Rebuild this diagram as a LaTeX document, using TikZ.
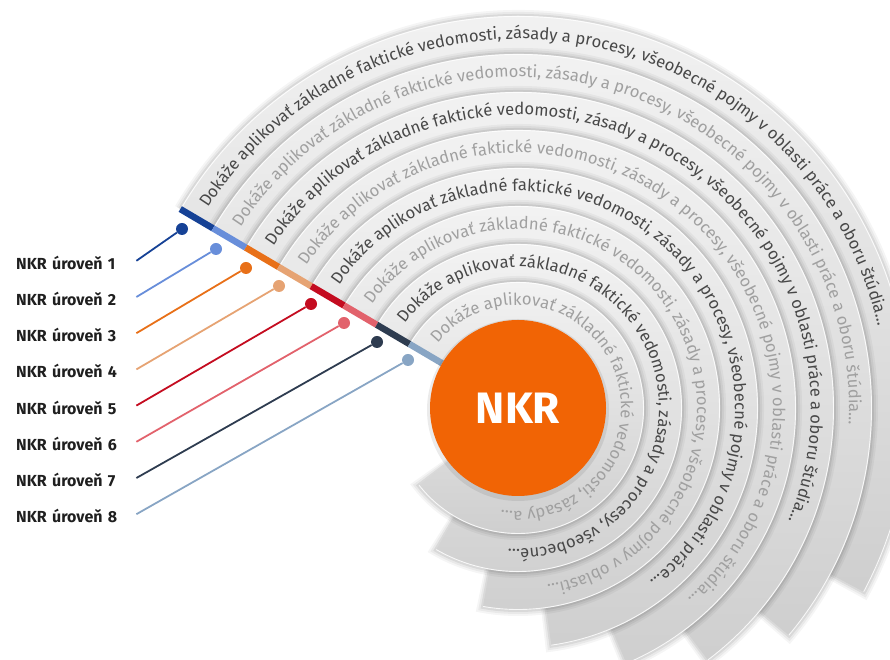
\documentclass[tikz,border=0pt]{standalone}
\usepackage{fontspec}
\setmainfont{Fira Sans}
\usetikzlibrary{decorations.text}
\definecolor{c1}{RGB}{22,66,150}
\definecolor{c2}{RGB}{104,142,218}
\definecolor{c3}{RGB}{232,112,24}
\definecolor{c4}{RGB}{230,163,115}
\definecolor{c5}{RGB}{196,12,32}
\definecolor{c6}{RGB}{226,98,108}
\definecolor{c7}{RGB}{46,60,80}
\definecolor{c8}{RGB}{136,165,196}
\definecolor{nkrorange}{RGB}{241,100,5}
\definecolor{darktxt}{RGB}{72,72,72}
\definecolor{lighttxt}{RGB}{160,160,160}
\newcommand\fullring{Dokáže aplikovať základné faktické vedomosti, zásady a procesy, všeobecné pojmy v oblasti práce a oboru štúdia…}
\newlength\fullringwd
\newcommand\ringfont{\fontsize{\ringfs pt}{\ringfs pt}\selectfont}
\newcommand\ringtext[4]{%
  \path[decorate, decoration={text along path, text={|\ringfont\color{#3}|#4}, text align={left indent=15pt}}]
    (149.5:#1) arc[start angle=149.5, end angle=#2, radius=#1];}
\tikzset{
  lbl/.style={anchor=west, inner sep=0pt, text width=120pt, align=left, text height=17pt, text depth=0pt, font=\bfseries\fontsize{16pt}{18pt}\selectfont, text=black!88},
  pin/.style={circle, inner sep=0pt, minimum size=12pt},
  conn/.style={line width=1.8pt},
  seg/.style={line width=6.5pt},
}
\begin{document}
\settowidth\fullringwd{\fontsize{10pt}{12pt}\selectfont\fullring}%
\pgfmathsetmacro\ringfs{10*860/\fullringwd}%
\begin{tikzpicture}[x=1pt,y=1pt]
\useasboundingbox (0,0) rectangle (890,660);
\clip (0,0) rectangle (890,660);
\begin{scope}[shift={(518,252)}]
\coordinate (C) at (0,0);
\foreach \k/\rout/\e in {1/392/-28,2/354/-40,3/316/-53,4/278/-67,5/240/-82,6/202/-100,7/164/-120,8/126/-142}{
  \foreach \d/\op in {6/0.04,4/0.05,2/0.07}{
    \fill[black, opacity=\op] (C) -- (149.5:{\rout+\d}) arc[start angle=149.5, end angle={\e-\d*57.3/\rout}, radius={\rout+\d}] -- cycle;
  }
  \shade[top color=black!4, bottom color=black!19] (C) -- (149.5:\rout) arc[start angle=149.5, end angle=\e, radius=\rout] -- cycle;
  \draw[white, line width=0.9pt, opacity=0.85] (149.5:{\rout-0.5}) arc[start angle=149.5, end angle=\e, radius={\rout-0.5}];
}
\ringtext{369}{-28}{darktxt}{Dokáže aplikovať základné faktické vedomosti, zásady a procesy, všeobecné pojmy v oblasti práce a oboru štúdia…}
\ringtext{331}{-40}{lighttxt}{Dokáže aplikovať základné faktické vedomosti, zásady a procesy, všeobecné pojmy v oblasti práce a oboru štúdia…}
\ringtext{293}{-53}{darktxt}{Dokáže aplikovať základné faktické vedomosti, zásady a procesy, všeobecné pojmy v oblasti práce a oboru štúdia…}
\ringtext{255}{-67}{lighttxt}{Dokáže aplikovať základné faktické vedomosti, zásady a procesy, všeobecné pojmy v oblasti práce a oboru štúdia…}
\ringtext{217}{-82}{darktxt}{Dokáže aplikovať základné faktické vedomosti, zásady a procesy, všeobecné pojmy v oblasti práce…}
\ringtext{179}{-100}{lighttxt}{Dokáže aplikovať základné faktické vedomosti, zásady a procesy, všeobecné pojmy v oblasti…}
\ringtext{141}{-120}{darktxt}{Dokáže aplikovať základné faktické vedomosti, zásady a procesy, všeobecné…}
\ringtext{103}{-142}{lighttxt}{Dokáže aplikovať základné faktické vedomosti, zásady a…}
\foreach \rout/\col in {392/c1,354/c2,316/c3,278/c4,240/c5,202/c6,164/c7,126/c8}
  \draw[seg, \col] (149.5:\rout) -- (149.5:{\rout-38});
\fill[black, opacity=0.08] (0,-2) circle (91);
\node[circle, fill=nkrorange, minimum size=176pt, inner sep=0pt, text=white, font=\bfseries\fontsize{44pt}{44pt}\selectfont] (nkr) at (C) {NKR};
\end{scope}
\node[pin, fill=c1] (D1) at (182,431) {};
\node[pin, fill=c2] (D2) at (216,411) {};
\node[pin, fill=c3] (D3) at (246,392) {};
\node[pin, fill=c4] (D4) at (279,374) {};
\node[pin, fill=c5] (D5) at (311,356) {};
\node[pin, fill=c6] (D6) at (344,337) {};
\node[pin, fill=c7] (D7) at (377,318) {};
\node[pin, fill=c8] (D8) at (408,300) {};
\node[lbl] (L1) at (16,399.2) {NKR úroveň 1};
\node[lbl] (L2) at (16,363.0) {NKR úroveň 2};
\node[lbl] (L3) at (16,326.8) {NKR úroveň 3};
\node[lbl] (L4) at (16,290.6) {NKR úroveň 4};
\node[lbl] (L5) at (16,254.4) {NKR úroveň 5};
\node[lbl] (L6) at (16,218.2) {NKR úroveň 6};
\node[lbl] (L7) at (16,182.0) {NKR úroveň 7};
\node[lbl] (L8) at (16,145.8) {NKR úroveň 8};
\draw[conn, c1] (L1.east) -- (D1);
\draw[conn, c2] (L2.east) -- (D2);
\draw[conn, c3] (L3.east) -- (D3);
\draw[conn, c4] (L4.east) -- (D4);
\draw[conn, c5] (L5.east) -- (D5);
\draw[conn, c6] (L6.east) -- (D6);
\draw[conn, c7] (L7.east) -- (D7);
\draw[conn, c8] (L8.east) -- (D8);
\end{tikzpicture}
\end{document}
